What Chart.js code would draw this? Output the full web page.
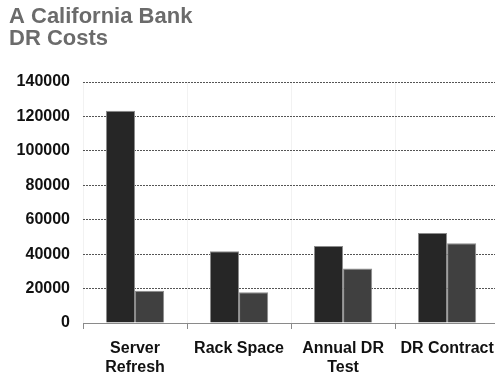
<!DOCTYPE html>
<html lang="en">
<head>
    <meta charset="UTF-8">
    <title>A California Bank DR Costs</title>
    <script src="https://cdn.jsdelivr.net/npm/chart.js"></script>
    <style>
        body {
            margin: 0;
            background-color: #fff;
            overflow: hidden;
        }
        #costChart {
            display: block;
        }
    </style>
</head>
<body>
    <canvas id="costChart" width="504" height="377"></canvas>
    <script>
        const categories = [['Server', 'Refresh'], 'Rack Space', ['Annual DR', 'Test'], 'DR Contract'];
        const series1Values = [123300, 41700, 44700, 52300];
        const series2Values = [18800, 17900, 31700, 46400];
        const yTicks = [0, 20000, 40000, 60000, 80000, 100000, 120000, 140000];

        const labelFont = { family: "'Liberation Sans', Arial, sans-serif", size: 16, weight: 'bold', lineHeight: 1.2 };

        const ctx = document.getElementById('costChart').getContext('2d');
        new Chart(ctx, {
            type: 'bar',
            data: {
                labels: categories,
                datasets: [{
                    label: 'Series 1',
                    data: series1Values,
                    backgroundColor: '#262626',
                    borderColor: '#8c8c8c',
                    borderWidth: 1,
                    categoryPercentage: 0.56,
                    barPercentage: 1.0
                }, {
                    label: 'Series 2',
                    data: series2Values,
                    backgroundColor: '#404040',
                    borderColor: '#8c8c8c',
                    borderWidth: 1,
                    categoryPercentage: 0.56,
                    barPercentage: 1.0
                }]
            },
            options: {
                responsive: false,
                animation: false,
                layout: {
                    padding: { left: 9, right: 2, top: 6, bottom: 0 }
                },
                plugins: {
                    legend: { display: false },
                    tooltip: { enabled: false },
                    title: {
                        display: true,
                        text: ['A California Bank', 'DR Costs'],
                        align: 'start',
                        color: '#6b6b6b',
                        font: { family: "'Liberation Sans', Arial, sans-serif", size: 22, weight: 'bold', lineHeight: 1.0 },
                        padding: { top: 0, bottom: 32 }
                    }
                },
                scales: {
                    x: {
                        afterFit: (axis) => { axis.height = 54; },
                        grid: {
                            display: true,
                            color: 'rgba(0,0,0,0.05)',
                            tickColor: '#8a8a8a',
                            tickLength: 6
                        },
                        border: { display: true, color: '#8a8a8a', width: 1 },
                        ticks: {
                            color: '#111',
                            font: labelFont,
                            padding: 10,
                            maxRotation: 0,
                            autoSkip: false
                        }
                    },
                    y: {
                        min: 0,
                        max: yTicks[yTicks.length - 1],
                        afterBuildTicks: (axis) => {
                            axis.ticks = yTicks.map(v => ({ value: v }));
                        },
                        afterFit: (axis) => { axis.width = 74; },
                        grid: {
                            color: '#555',
                            lineWidth: 1,
                            drawTicks: false
                        },
                        border: { display: false, dash: [2, 1] },
                        ticks: {
                            color: '#111',
                            font: labelFont,
                            padding: 13,
                            callback: (value) => String(value)
                        }
                    }
                }
            }
        });
    </script>
</body>
</html>
